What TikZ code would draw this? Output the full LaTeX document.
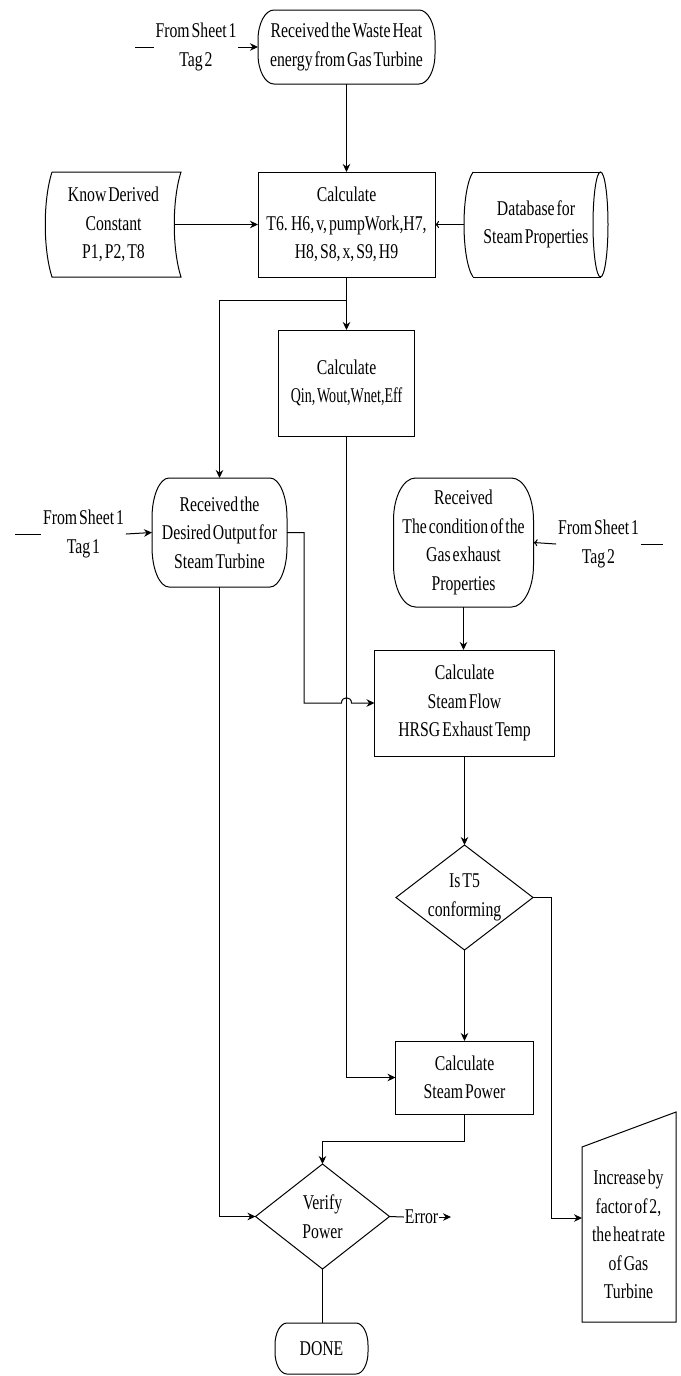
\documentclass[tikz,border=0pt]{standalone}
\usepackage{fontspec}
\usepackage{graphicx}
\setmainfont{Liberation Serif}[FakeStretch=0.75,WordSpace=0.5]
\usetikzlibrary{arrows.meta,calc,shapes.geometric}
\newcommand{\termdraw}[3]{%
\draw ($(#1.north west)+(#2,0)$) -- ($(#1.north east)+(-#2,0)$)
 .. controls ($(#1.north east)+(-0.448*#2,0)$) and ($(#1.north east)+(0,0.448*#3)$) .. ($(#1.north east)+(0,#3)$)
 -- ($(#1.south east)+(0,-#3)$)
 .. controls ($(#1.south east)+(0,-0.448*#3)$) and ($(#1.south east)+(-0.448*#2,0)$) .. ($(#1.south east)+(-#2,0)$)
 -- ($(#1.south west)+(#2,0)$)
 .. controls ($(#1.south west)+(0.448*#2,0)$) and ($(#1.south west)+(0,-0.448*#3)$) .. ($(#1.south west)+(0,-#3)$)
 -- ($(#1.north west)+(0,#3)$)
 .. controls ($(#1.north west)+(0,0.448*#3)$) and ($(#1.north west)+(0.448*#2,0)$) .. cycle;}
\tikzset{
 every node/.style={font=\fontsize{21}{28.5}\selectfont, align=center, inner sep=0pt, outer sep=0pt},
 box/.style={draw, rectangle},
 diam/.style={draw, diamond},
 lbl/.style={inner sep=2pt},
 arr/.style={-{Stealth[length=8pt,width=7.5pt]}},
 oarr/.style={-{To[length=4pt,width=7pt]}}
}
\begin{document}
\begin{tikzpicture}[x=1pt, y=-1pt, line width=1pt]
\useasboundingbox (0,0) rectangle (680,1376);
\fill[white] (0,0) rectangle (680,1376);

% top terminator
\node[minimum width=177pt, minimum height=74pt] (waste) at (346.5,47) {Received the Waste Heat\\energy from Gas Turbine};
\termdraw{waste}{16}{30}
\node[lbl] (fs1) at (196,47) {From Sheet 1\\Tag 2};
\coordinate (fs1s) at (135,47);
\draw (fs1s) -- (fs1.west);
\draw[arr] (fs1.east) -- (waste.west);

% row 2
\node[box, minimum width=177pt, minimum height=105pt] (calc1) at (346.5,224.5) {Calculate\\T6. H6, v, pumpWork,H7,\\H8, S8, x, S9, H9};
\node[minimum width=135pt, minimum height=105pt] (known) at (113.5,224.5) {Know Derived\\Constant\\P1, P2, T8};
\draw (52,172) -- (181,172) .. controls (172,200) and (172,249) .. (181,277) -- (52,277) .. controls (43,249) and (43,200) .. (52,172);
\node[minimum width=144pt, minimum height=105pt] (db) at (536,224.5) {Database for\\Steam Properties};
\draw (473,172) -- (600.5,172);
\draw (473,277) -- (600.5,277);
\draw (473,172) .. controls (461,190) and (461,259) .. (473,277);
\draw (600.5,224.5) ellipse [x radius=7.5pt, y radius=52.5pt];

\draw[arr] (waste.south) -- (waste.south |- calc1.north);
\draw[arr] ([xshift=-7pt]known.east) -- (calc1.west);
\draw[oarr] (db.west) -- (calc1.east);

% calc2
\node[box, minimum width=136pt, minimum height=106pt] (calc2) at (346.5,383) {Calculate\\\scalebox{0.89}[1]{Qin, Wout,Wnet,Eff}};
\draw[arr] (calc1.south) -- (calc2.north);
\coordinate (br) at (346.5,300);

% desired
\node[minimum width=135pt, minimum height=109pt] (desired) at (219.5,532.5) {Received the\\Desired Output for\\Steam Turbine};
\termdraw{desired}{17}{40}
\draw[arr] (br) -| (desired.north);
\node[lbl] (fs2) at (83.5,534) {From Sheet 1\\Tag 1};
\coordinate (fs2s) at (15,534);
\draw (fs2s) -- (fs2.west);
\draw[arr] (fs2.east) -- (desired.west);

% gas
\node[minimum width=140pt, minimum height=129pt] (gas) at (463.5,542.5) {Received\\The condition of the\\Gas exhaust\\Properties};
\termdraw{gas}{22}{42}
\node[lbl] (fs3) at (598.5,544) {From Sheet 1\\Tag 2};
\coordinate (fs3s) at (663,544);
\draw (fs3.east) -- (fs3s);
\draw[oarr] (fs3.west) -- (gas.east);

% steam flow
\node[box, minimum width=180pt, minimum height=106pt] (sf) at (464.5,703) {Calculate\\Steam Flow\\HRSG Exhaust Temp};
\draw[arr] (gas.south) -- (gas.south |- sf.north);
\draw[arr] (desired.east) -| (304,703) -- (341.5,703) .. controls (341.5,696) and (351.5,696) .. (351.5,703) -- (sf.west);

% conforming
\node[diam, minimum width=137pt, minimum height=105pt] (conf) at (464.5,897.5) {};
\node (conft) at (464.5,897.5) {Is T5\\conforming};
\draw[arr] (sf.south) -- (conf.north);

% steam power
\node[box, minimum width=138pt, minimum height=73pt] (sp) at (464.5,1077.5) {Calculate\\Steam Power};
\draw[arr] (conf.south) -- (sp.north);
\draw[arr] (calc2.south) |- (sp.west);

% increase
\draw (582,1147) -- (676,1112) -- (676,1322) -- (582,1322) -- cycle;
\node (inc) at (628.5,1234.5) {Increase by\\factor of 2,\\the heat rate\\of Gas\\Turbine};
\coordinate (incin) at (582,1218);
\draw[arr] (conf.east) -| (551,1218) -- (incin);

% verify
\node[diam, minimum width=134pt, minimum height=105pt] (verify) at (322.5,1216.5) {};
\node (verifyt) at (322.5,1216.5) {Verify\\Power};
\draw[arr] (sp.south) -- ++(0,27) -| (verify.north);
\draw[arr] (desired.south) |- (verify.west);
\node[inner sep=1pt] (err) at (421.5,1217) {Error};
\coordinate (errend) at (451,1217);
\draw (verify.east) -- (err.west);
\draw[arr] (err.east) -- (errend);

% done
\node[minimum width=93pt, minimum height=51pt] (done) at (321.5,1348.5) {DONE};
\termdraw{done}{12}{22}
\draw (verify.south) -- (verify.south |- done.north);
\end{tikzpicture}
\end{document}
